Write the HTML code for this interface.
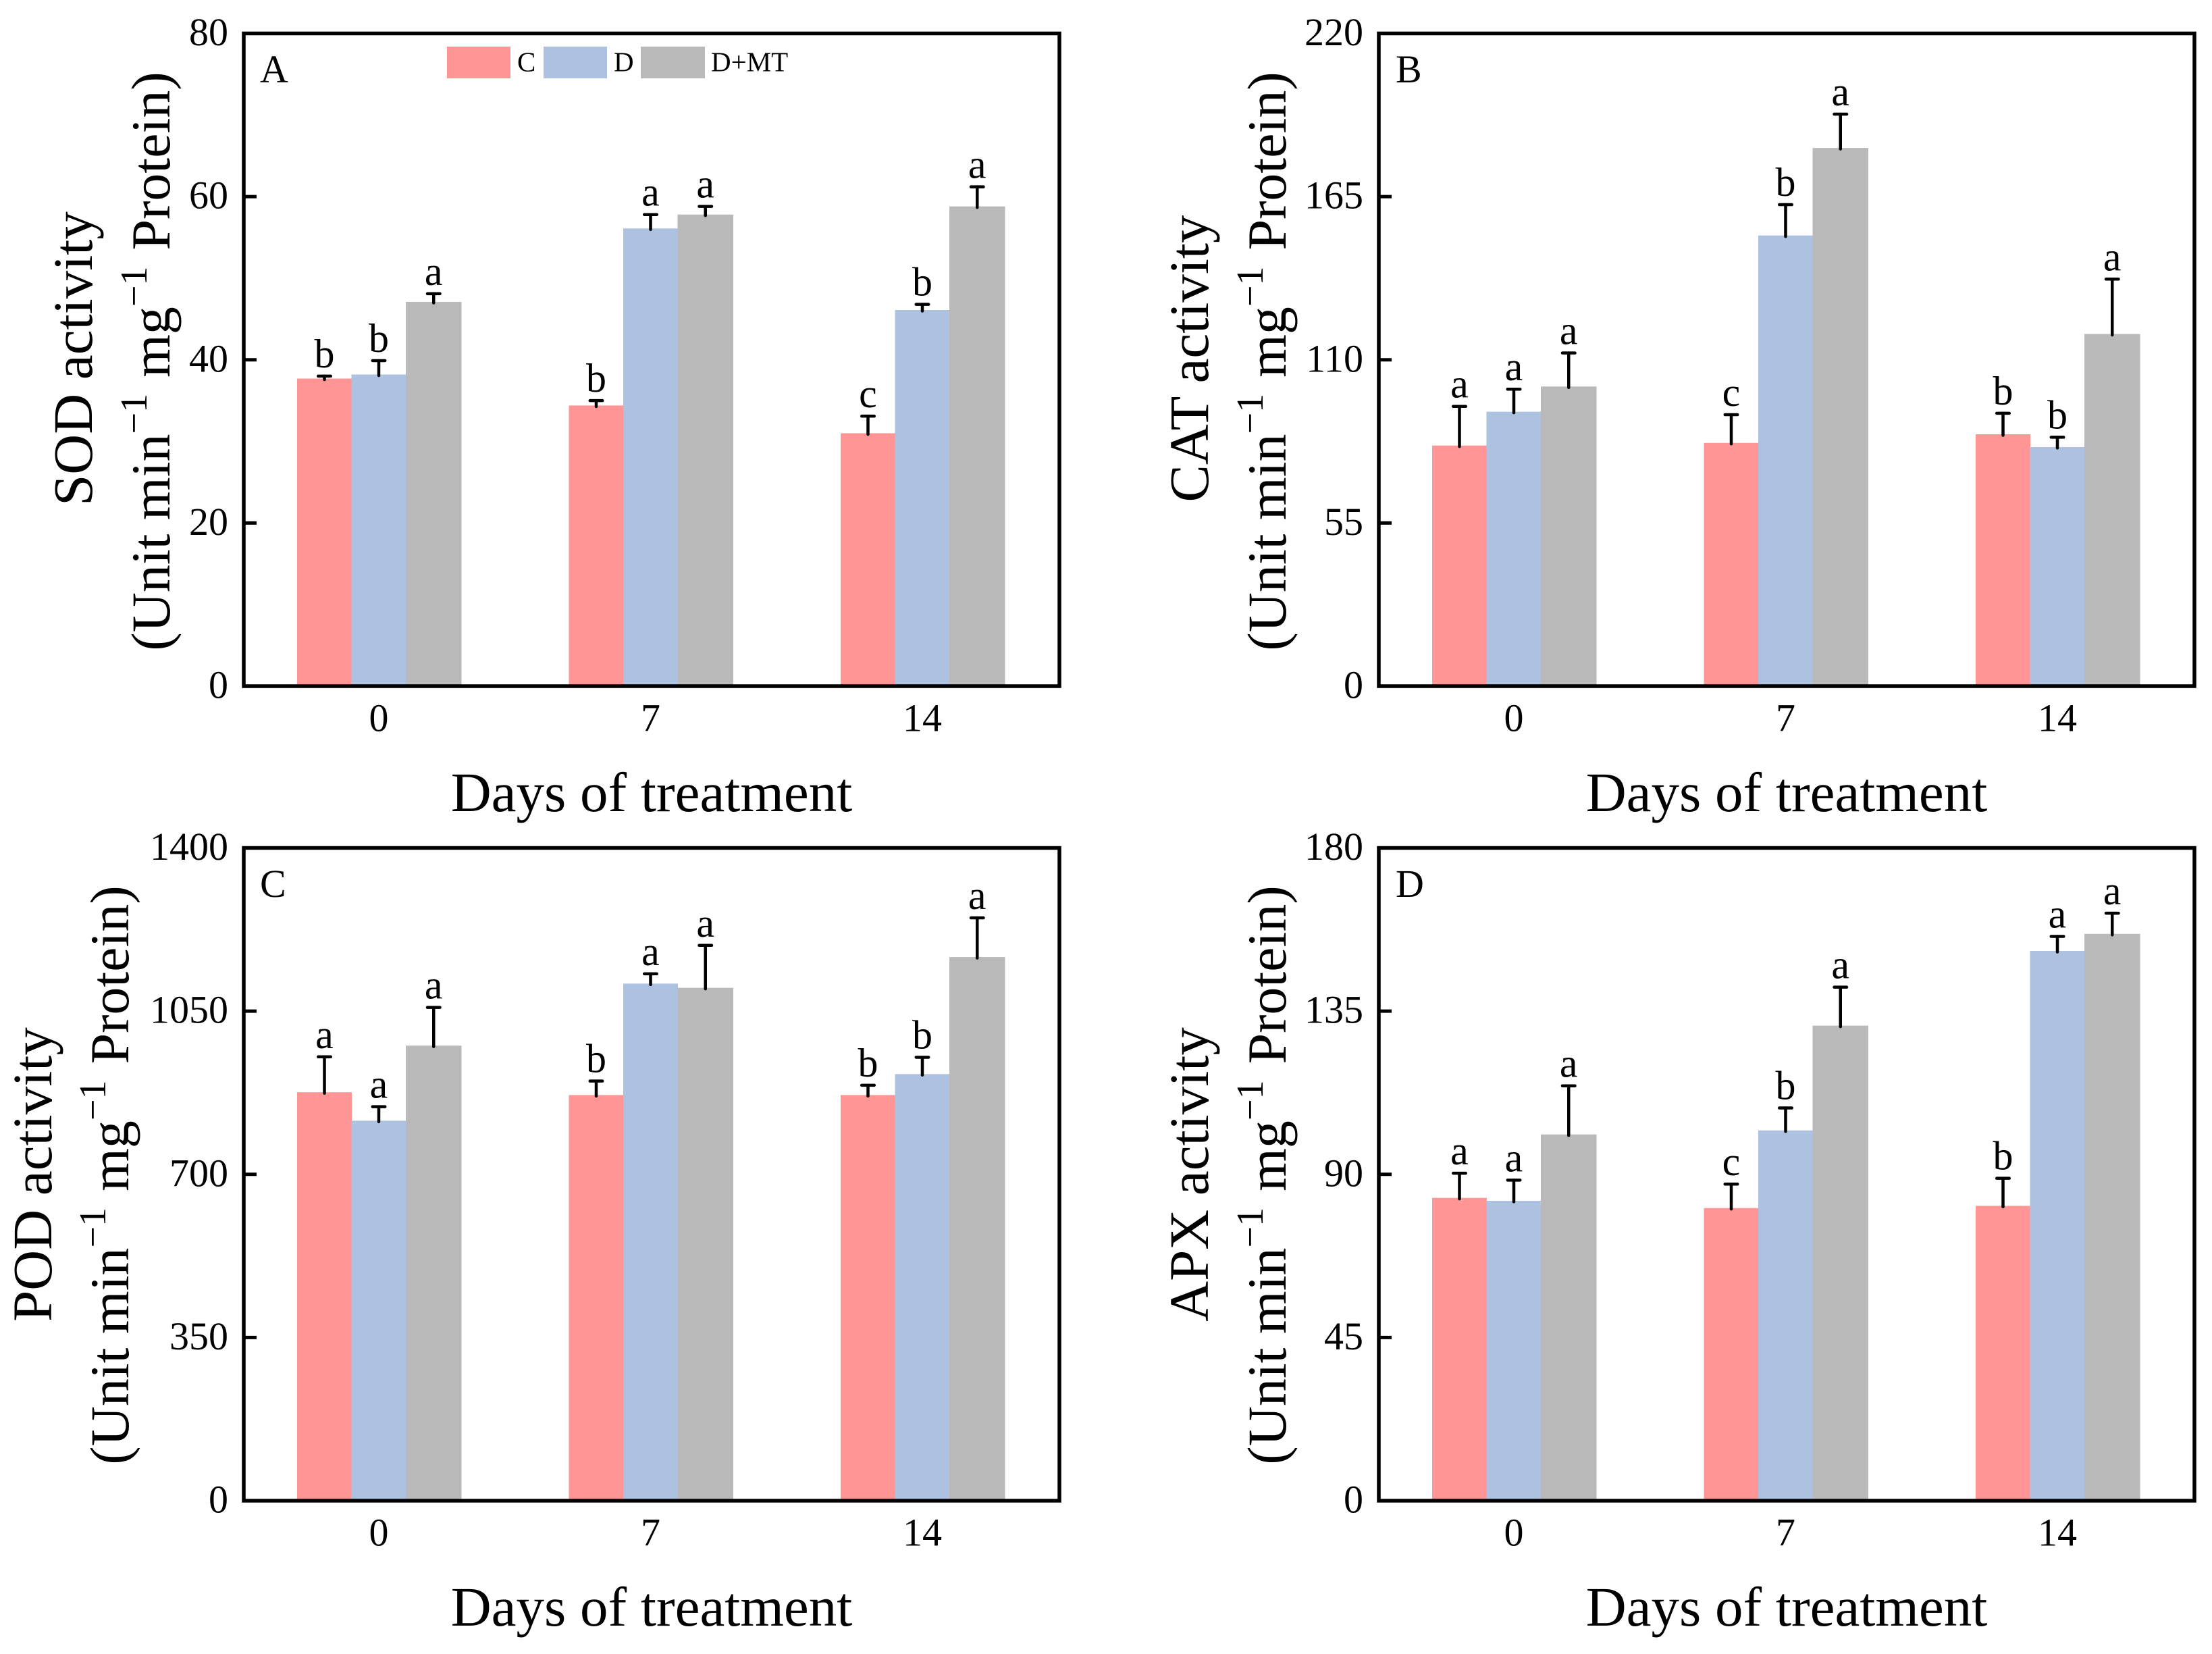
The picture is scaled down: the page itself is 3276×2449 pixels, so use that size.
<!DOCTYPE html>
<html lang="en">
<head>
<meta charset="utf-8">
<title>Antioxidant enzyme activity under drought and melatonin treatment</title>
<style>
html,body{margin:0;padding:0;background:#fff;}
svg{display:block;}
text{font-family:"Liberation Serif",serif;fill:#000;}
.frame{fill:none;stroke:#000;stroke-width:5.5;}
.axt{font-size:83px;}
.axt2{font-size:82px;}
.tick{font-size:58px;}
.sig{font-size:60px;}
.pl{font-size:58px;}
.lg{font-size:41px;}
</style>
</head>
<body>
<svg id="chart" xmlns="http://www.w3.org/2000/svg" width="3276" height="2449" viewBox="0 0 3276 2449">
<rect x="0" y="0" width="3276" height="2449" fill="#fff"/>

<g id="panel-a" transform="translate(0,0)">
  <text class="axt" text-anchor="middle" transform="translate(136,531) rotate(-90)">SOD activity</text>
  <text class="axt2" text-anchor="middle" transform="translate(251,535) rotate(-90)">(Unit min<tspan font-size="56" dy="-34">−1</tspan><tspan dy="34" dx="24">mg</tspan><tspan font-size="56" dy="-34">−1</tspan><tspan dy="34" dx="24">Protein)</tspan></text>
  <text class="axt" text-anchor="middle" x="965" y="1201">Days of treatment</text>
  <text class="pl" x="385" y="122">A</text>
</g>

<g id="panel-b" transform="translate(1681,0)">
  <text class="axt" text-anchor="middle" transform="translate(108,531) rotate(-90)">CAT activity</text>
  <text class="axt2" text-anchor="middle" transform="translate(223,535) rotate(-90)">(Unit min<tspan font-size="56" dy="-34">−1</tspan><tspan dy="34" dx="24">mg</tspan><tspan font-size="56" dy="-34">−1</tspan><tspan dy="34" dx="24">Protein)</tspan></text>
  <text class="axt" text-anchor="middle" x="965" y="1201">Days of treatment</text>
  <text class="pl" x="386" y="122">B</text>
</g>

<g id="panel-c" transform="translate(0,1206)">
  <text class="axt" text-anchor="middle" transform="translate(76,533) rotate(-90)">POD activity</text>
  <text class="axt2" text-anchor="middle" transform="translate(190,534) rotate(-90)">(Unit min<tspan font-size="56" dy="-34">−1</tspan><tspan dy="34" dx="24">mg</tspan><tspan font-size="56" dy="-34">−1</tspan><tspan dy="34" dx="24">Protein)</tspan></text>
  <text class="axt" text-anchor="middle" x="965" y="1201">Days of treatment</text>
  <text class="pl" x="385" y="122">C</text>
</g>

<g id="panel-d" transform="translate(1681,1206)">
  <text class="axt" text-anchor="middle" transform="translate(108,533) rotate(-90)">APX activity</text>
  <text class="axt2" text-anchor="middle" transform="translate(223,534) rotate(-90)">(Unit min<tspan font-size="56" dy="-34">−1</tspan><tspan dy="34" dx="24">mg</tspan><tspan font-size="56" dy="-34">−1</tspan><tspan dy="34" dx="24">Protein)</tspan></text>
  <text class="axt" text-anchor="middle" x="965" y="1201">Days of treatment</text>
  <text class="pl" x="386" y="122">D</text>
</g>

<g id="legend">
  <rect x="662" y="69" width="94" height="47" fill="#FF9595"/>
  <text class="lg" x="766" y="105.5">C</text>
  <rect x="805" y="69" width="94" height="47" fill="#ADC2E0"/>
  <text class="lg" x="909" y="105.5">D</text>
  <rect x="949" y="69" width="95" height="47" fill="#BAB9B9"/>
  <text class="lg" x="1053" y="105.5">D+MT</text>
</g>
</svg>

<script>
// Shared categories
const dayLabels = ["0", "7", "14"];

// Panel A: SOD
const sodTicks = [0, 20, 40, 60, 80];
const sodC = [37.7, 34.4, 31.0];
const sodD = [38.2, 56.1, 46.1];
const sodMT = [47.1, 57.8, 58.8];
const sodCErr = [0.3, 0.6, 2.1];
const sodDErr = [1.7, 1.7, 0.7];
const sodMTErr = [1.0, 1.0, 2.4];
const sodCLetters = ["b", "b", "c"];
const sodDLetters = ["b", "a", "b"];
const sodMTLetters = ["a", "a", "a"];

// Panel B: CAT
const catTicks = [0, 55, 110, 165, 220];
const catC = [81.1, 82.0, 84.9];
const catD = [92.5, 151.9, 80.6];
const catMT = [101.0, 181.4, 118.7];
const catCErr = [13.2, 9.5, 7.1];
const catDErr = [7.6, 10.4, 3.3];
const catMTErr = [11.3, 11.4, 18.5];
const catCLetters = ["a", "c", "b"];
const catDLetters = ["a", "b", "b"];
const catMTLetters = ["a", "a", "a"];

// Panel C: POD
const podTicks = [0, 350, 700, 1050, 1400];
const podC = [876, 870, 870];
const podD = [815, 1109, 915];
const podMT = [976, 1100, 1166];
const podCErr = [76, 30, 21];
const podDErr = [30, 21, 36];
const podMTErr = [82, 91, 84];
const podCLetters = ["a", "b", "b"];
const podDLetters = ["a", "a", "b"];
const podMTLetters = ["a", "a", "a"];

// Panel D: APX
const apxTicks = [0, 45, 90, 135, 180];
const apxC = [83.5, 80.7, 81.3];
const apxD = [82.7, 102.1, 151.6];
const apxMT = [101.0, 131.0, 156.3];
const apxCErr = [6.8, 6.6, 7.6];
const apxDErr = [5.7, 6.2, 4.0];
const apxMTErr = [13.4, 10.6, 5.7];
const apxCLetters = ["a", "c", "b"];
const apxDLetters = ["a", "b", "a"];
const apxMTLetters = ["a", "a", "a"];

const SVG_NS = "http://www.w3.org/2000/svg";
const plotLeft = 361, plotRight = 1569, plotTop = 49.5, plotBottom = 1016;
const seriesColors = ["#FF9595", "#ADC2E0", "#BAB9B9"];

function xCenter(i) { return plotLeft + 200 + i * 402.5; }
function barLeft(i, s) { return xCenter(i) + [-121, -40.5, 40][s]; }
function barWidth(s) { return s === 2 ? 82.5 : 81; }
function yPos(v, top) { return plotBottom - (v / top) * (plotBottom - plotTop); }
function make(tag, parent) {
  const el = document.createElementNS(SVG_NS, tag);
  parent.appendChild(el);
  return el;
}

function drawPanel(id, ticks, series, errors, letters) {
  const g = document.getElementById(id);
  const yMax = ticks[ticks.length - 1];

  series.forEach(function (values, s) {
    values.forEach(function (v, i) {
      const barTopY = yPos(v, yMax);

      const bar = make("rect", g);
      
      
      bar.setAttribute("x", barLeft(i, s));
      bar.setAttribute("y", barTopY);
      bar.setAttribute("width", barWidth(s));
      bar.setAttribute("height", plotBottom - barTopY);
      bar.setAttribute("fill", seriesColors[s]);
    });
  });

  series.forEach(function (values, s) {
    values.forEach(function (v, i) {
      const cx = barLeft(i, s) + barWidth(s) / 2;
      const barTopY = yPos(v, yMax);
      const errTopY = yPos(v + errors[s][i], yMax);

      const stem = make("line", g);
      
      
      stem.setAttribute("x1", cx);
      stem.setAttribute("x2", cx);
      stem.setAttribute("y1", barTopY + 1.5);
      stem.setAttribute("y2", errTopY);
      stem.setAttribute("stroke", "#000");
      stem.setAttribute("stroke-width", "4.5");
      stem.setAttribute("stroke-linecap", "round");

      const cap = make("line", g);
      
      
      cap.setAttribute("x1", cx - 9.25);
      cap.setAttribute("x2", cx + 9.25);
      cap.setAttribute("y1", errTopY);
      cap.setAttribute("y2", errTopY);
      cap.setAttribute("stroke", "#000");
      cap.setAttribute("stroke-width", "4.5");
      cap.setAttribute("stroke-linecap", "round");

      const letter = make("text", g);
      
      
      letter.setAttribute("class", "sig");
      letter.setAttribute("text-anchor", "middle");
      letter.setAttribute("x", cx);
      letter.setAttribute("y", errTopY - 13);
      letter.textContent = letters[s][i];
    });
  });

  ticks.forEach(function (t) {
    const y = yPos(t, yMax);

    const tick = make("line", g);
    
    
    tick.setAttribute("x1", plotLeft);
    tick.setAttribute("x2", plotLeft + 19);
    tick.setAttribute("y1", y);
    tick.setAttribute("y2", y);
    tick.setAttribute("stroke", "#000");
    tick.setAttribute("stroke-width", "5");

    const label = make("text", g);
    
    
    label.setAttribute("class", "tick");
    label.setAttribute("text-anchor", "end");
    label.setAttribute("x", 338);
    label.setAttribute("y", y + 17.5);
    label.textContent = t;
  });

  dayLabels.forEach(function (d, i) {
    const label = make("text", g);
    
    
    label.setAttribute("class", "tick");
    label.setAttribute("text-anchor", "middle");
    label.setAttribute("x", xCenter(i));
    label.setAttribute("y", plotBottom + 66.5);
    label.textContent = d;
  });

  const frame = make("rect", g);
  
  
  frame.setAttribute("class", "frame");
  frame.setAttribute("x", plotLeft);
  frame.setAttribute("y", plotTop);
  frame.setAttribute("width", plotRight - plotLeft);
  frame.setAttribute("height", plotBottom - plotTop);
}

drawPanel("panel-a", sodTicks, [sodC, sodD, sodMT], [sodCErr, sodDErr, sodMTErr], [sodCLetters, sodDLetters, sodMTLetters]);
drawPanel("panel-b", catTicks, [catC, catD, catMT], [catCErr, catDErr, catMTErr], [catCLetters, catDLetters, catMTLetters]);
drawPanel("panel-c", podTicks, [podC, podD, podMT], [podCErr, podDErr, podMTErr], [podCLetters, podDLetters, podMTLetters]);
drawPanel("panel-d", apxTicks, [apxC, apxD, apxMT], [apxCErr, apxDErr, apxMTErr], [apxCLetters, apxDLetters, apxMTLetters]);
</script>
</body>
</html>
